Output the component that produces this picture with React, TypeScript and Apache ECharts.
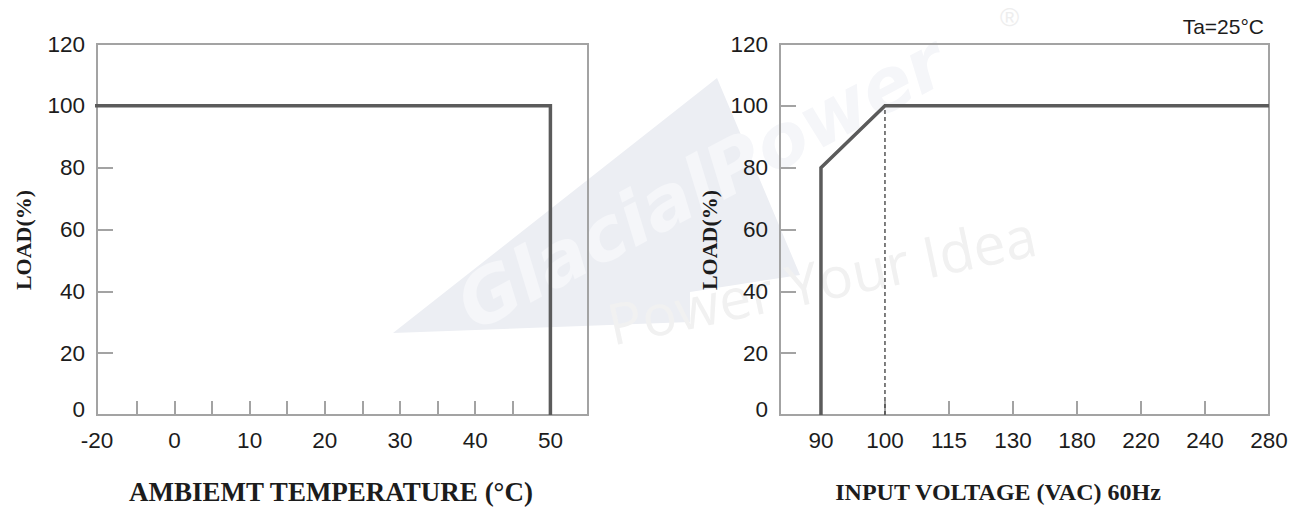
import React, { useEffect, useRef } from "react";
import * as echarts from "echarts";

// ---- data ----
const loadTicks = [0, 20, 40, 60, 80, 100, 120];

// Left: derating vs ambient temperature
const tempLabelValues = [-20, 0, 10, 20, 30, 40, 50];
const tempMinorTicks = [-5, 0, 5, 10, 15, 20, 25, 30, 35, 40, 45, 50];
const tempCurveX = [-20, 50, 50];
const tempCurveLoad = [100, 100, 0];

// Right: derating vs input voltage (categorical-spaced axis)
const voltLabels = ["90", "100", "115", "130", "180", "220", "240", "280"];
const voltCurveX = ["90", "90", "100", "280"];
const voltCurveLoad = [0, 80, 100, 100];
const voltDashX = ["100", "100"];
const voltDashLoad = [0, 100];

const AXIS_GRAY = "#a3a3a3";
const LINE_DARK = "#5b5b5b";
const SANS = "Liberation Sans, Arial, sans-serif";
const SERIF = "Liberation Serif, Times New Roman, serif";

export default function App() {
  const ref = useRef<HTMLDivElement>(null);

  useEffect(() => {
    document.body.style.margin = "0";
    const chart = echarts.init(ref.current!, undefined, { renderer: "svg" });

    const tempAxisStart = -10.3; // broken axis: "-20" sits at the axis origin
    const voltIdx = (v: string) => voltLabels.indexOf(v);

    const yAxisBase = (gridIndex: number) => ({
      type: "value" as const,
      gridIndex,
      min: 0,
      max: 120,
      interval: 20,
      axisLine: { show: true, onZero: false, lineStyle: { color: AXIS_GRAY, width: 2 } },
      axisTick: {
        show: true,
        inside: true,
        length: 16,
        lineStyle: { color: AXIS_GRAY, width: 2 },
        customValues: loadTicks.filter((v) => v > 0 && v < 120),
      },
      axisLabel: {
        color: "#1c1c1c",
        fontFamily: SANS,
        fontSize: 22.5,
        margin: 12,
        customValues: loadTicks,
        formatter: (v: number) => (v === 0 ? "{z|0}" : String(v)),
        rich: { z: { fontFamily: SANS, fontSize: 22.5, color: "#1c1c1c", padding: [0, 0, 12, 0] } },
      },
      splitLine: { show: false },
    });

    const tickLabel = {
      color: "#1c1c1c",
      fontFamily: SANS,
      fontSize: 22.5,
      margin: 14,
    };

    chart.setOption({
      animation: false,
      grid: [
        { left: 97, right: 704, top: 44, bottom: 94, show: true, borderColor: AXIS_GRAY, borderWidth: 2, containLabel: false },
        { left: 780, right: 23, top: 44, bottom: 94, show: true, borderColor: AXIS_GRAY, borderWidth: 2, containLabel: false },
      ],
      xAxis: [
        {
          type: "value",
          gridIndex: 0,
          min: tempAxisStart,
          max: 55,
          axisLine: { show: true, onZero: false, lineStyle: { color: AXIS_GRAY, width: 2 } },
          axisTick: {
            show: true,
            inside: true,
            length: 14,
            lineStyle: { color: AXIS_GRAY, width: 2 },
            customValues: tempMinorTicks,
          },
          axisLabel: {
            ...tickLabel,
            customValues: [tempAxisStart, ...tempLabelValues.slice(1)],
            formatter: (v: number) => (v < -10 ? String(tempLabelValues[0]) : String(v)),
          },
          splitLine: { show: false },
        },
        {
          type: "value",
          gridIndex: 1,
          min: -0.64,
          max: voltLabels.length - 1,
          axisLine: { show: true, onZero: false, lineStyle: { color: AXIS_GRAY, width: 2 } },
          axisTick: {
            show: true,
            inside: true,
            length: 14,
            lineStyle: { color: AXIS_GRAY, width: 2 },
            customValues: voltLabels.map((_, i) => i).slice(1, voltLabels.length - 1),
          },
          axisLabel: {
            ...tickLabel,
            customValues: voltLabels.map((_, i) => i),
            formatter: (v: number) => voltLabels[Math.round(v)] ?? "",
          },
          splitLine: { show: false },
        },
      ],
      yAxis: [yAxisBase(0), yAxisBase(1)],
      graphic: [
        // faint watermark
        {
          type: "polygon",
          z: -10,
          silent: true,
          shape: { points: [[393, 333], [717, 78], [800, 275], [690, 292], [690, 322]] },
          style: { fill: "#eceef3" },
        },
        {
          type: "text",
          z: -9,
          silent: true,
          x: 480,
          y: 342,
          rotation: (28 * Math.PI) / 180,
          style: {
            text: "GlacialPower",
            fontFamily: "DejaVu Sans, sans-serif",
            fontWeight: "bold",
            fontStyle: "italic",
            fontSize: 74,
            fill: "#f5f6f9",
            verticalAlign: "bottom",
          },
        },
        {
          type: "text",
          z: -9,
          silent: true,
          x: 614,
          y: 352,
          rotation: (12 * Math.PI) / 180,
          style: {
            text: "Power Your Idea",
            fontFamily: "Open Sans, sans-serif",
            fontSize: 57,
            fill: "#f1f1f1",
            verticalAlign: "bottom",
          },
        },
        {
          type: "text",
          z: -9,
          silent: true,
          x: 1000,
          y: 4,
          style: { text: "®", fontFamily: SANS, fontSize: 26, fill: "#eeeeee" },
        },
        // axis titles
        {
          type: "text",
          x: 23,
          y: 240,
          rotation: Math.PI / 2,
          style: {
            text: "LOAD(%)",
            fontFamily: SERIF,
            fontWeight: "bold",
            fontSize: 22,
            fill: "#1c1c1c",
            align: "center",
            verticalAlign: "middle",
          },
        },
        {
          type: "text",
          x: 709,
          y: 240,
          rotation: Math.PI / 2,
          style: {
            text: "LOAD(%)",
            fontFamily: SERIF,
            fontWeight: "bold",
            fontSize: 22,
            fill: "#1c1c1c",
            align: "center",
            verticalAlign: "middle",
          },
        },
        {
          type: "text",
          x: 331,
          y: 492,
          style: {
            text: "AMBIEMT TEMPERATURE (°C)",
            fontFamily: SERIF,
            fontWeight: "bold",
            fontSize: 27,
            fill: "#1c1c1c",
            align: "center",
            verticalAlign: "middle",
          },
        },
        {
          type: "text",
          x: 998,
          y: 492,
          style: {
            text: "INPUT VOLTAGE (VAC) 60Hz",
            fontFamily: SERIF,
            fontWeight: "bold",
            fontSize: 24,
            fill: "#1c1c1c",
            align: "center",
            verticalAlign: "middle",
          },
        },
        {
          type: "text",
          x: 1264,
          y: 26,
          style: {
            text: "Ta=25°C",
            fontFamily: SANS,
            fontSize: 21,
            fill: "#1c1c1c",
            align: "right",
            verticalAlign: "middle",
          },
        },
      ],
      series: [
        {
          type: "line",
          xAxisIndex: 0,
          yAxisIndex: 0,
          data: tempCurveX.map((x, i) => [x, tempCurveLoad[i]]),
          showSymbol: false,
          clip: true,
          lineStyle: { color: LINE_DARK, width: 3.5, join: "miter" },
          z: 5,
        },
        {
          type: "line",
          xAxisIndex: 1,
          yAxisIndex: 1,
          data: voltDashX.map((x, i) => [voltIdx(x), voltDashLoad[i]]),
          showSymbol: false,
          lineStyle: { color: "#3a3a3a", width: 1.3, type: [4, 3] },
          z: 4,
        },
        {
          type: "line",
          xAxisIndex: 1,
          yAxisIndex: 1,
          data: voltCurveX.map((x, i) => [voltIdx(x), voltCurveLoad[i]]),
          showSymbol: false,
          lineStyle: { color: LINE_DARK, width: 3.5, join: "miter" },
          z: 5,
        },
      ],
    });

    return () => chart.dispose();
  }, []);

  return <div ref={ref} style={{ width: 1292, height: 509 }} />;
}
